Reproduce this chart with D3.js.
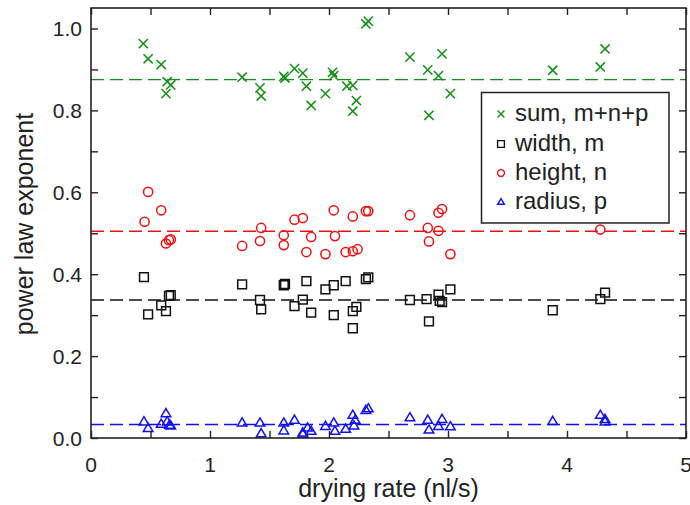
<!DOCTYPE html>
<html>
<head>
<meta charset="utf-8">
<script src="https://cdn.jsdelivr.net/npm/d3@7"></script>
<style>
  body { margin: 0; background: #fff; }
  text { font-family: "Liberation Sans", Arial, sans-serif; fill: #222; }
</style>
</head>
<body>
<svg id="svg" width="690" height="505"></svg>
<script>
// values
var sumX = [0.44,0.48,0.59,0.63,0.64,0.67,1.27,1.42,1.43,1.62,1.63,1.71,1.78,1.81,1.85,1.97,2.03,2.04,2.15,2.20,2.20,2.23,2.31,2.33,2.68,2.83,2.84,2.92,2.95,3.02,3.88,4.28,4.32];
var sumY = [0.963,0.926,0.912,0.841,0.870,0.862,0.881,0.855,0.835,0.883,0.879,0.902,0.891,0.859,0.812,0.841,0.893,0.885,0.859,0.861,0.798,0.824,1.011,1.018,0.930,0.899,0.788,0.885,0.938,0.841,0.898,0.906,0.950];

var widthX = [0.445,0.48,0.59,0.63,0.655,0.67,1.27,1.42,1.43,1.62,1.63,1.71,1.78,1.81,1.85,1.97,2.04,2.04,2.14,2.20,2.23,2.20,2.31,2.33,2.68,2.82,2.84,2.92,2.93,2.95,3.02,3.88,4.28,4.32];
var widthY = [0.393,0.302,0.324,0.310,0.347,0.349,0.375,0.337,0.314,0.373,0.376,0.322,0.338,0.383,0.306,0.363,0.373,0.300,0.383,0.310,0.320,0.268,0.388,0.392,0.337,0.339,0.285,0.350,0.335,0.332,0.363,0.312,0.339,0.355];

var heightX = [0.45,0.48,0.59,0.63,0.655,0.67,1.27,1.42,1.43,1.62,1.62,1.71,1.78,1.81,1.85,1.97,2.04,2.05,2.14,2.20,2.20,2.24,2.31,2.33,2.68,2.83,2.84,2.92,2.92,2.95,3.02,4.28];
var heightY = [0.528,0.601,0.556,0.475,0.483,0.485,0.469,0.481,0.513,0.495,0.471,0.533,0.537,0.454,0.491,0.449,0.556,0.493,0.454,0.541,0.456,0.461,0.554,0.554,0.544,0.513,0.480,0.550,0.506,0.559,0.449,0.509];

var radiusX = [0.445,0.48,0.59,0.63,0.64,0.66,0.67,1.27,1.42,1.43,1.62,1.62,1.71,1.78,1.78,1.82,1.85,1.97,2.04,2.05,2.14,2.20,2.22,2.21,2.31,2.33,2.68,2.83,2.84,2.92,2.95,3.02,3.88,4.28,4.32,4.32];
var radiusY = [0.040,0.024,0.034,0.060,0.040,0.032,0.030,0.037,0.037,0.011,0.037,0.018,0.044,0.013,0.010,0.025,0.017,0.029,0.037,0.017,0.022,0.056,0.044,0.030,0.068,0.072,0.050,0.044,0.020,0.029,0.046,0.028,0.041,0.056,0.046,0.040];

// mean values (dashed lines)
var means = [0.875, 0.337, 0.505, 0.033];
var seriesNames = ["sum, m+n+p", "width, m", "height, n", "radius, p"];
var seriesColors = ["#119011", "#111111", "#ee1111", "#1111ee"];
var seriesShapes = ["x", "square", "circle", "triangle"];

var xTicks = [0, 1, 2, 3, 4, 5];
var yTicks = [0.0, 0.2, 0.4, 0.6, 0.8, 1.0];

var svg = d3.select("#svg");

// plot box (window.top is reserved, so not "top")
var padL = 91, padR = 686, padT = 8, padB = 438;

var x = d3.scaleLinear().domain([0, 5]).range([padL, padR]);
var y = d3.scaleLinear().domain([0, 1.05]).range([padB, padT]);

var series = [
  {x: sumX, y: sumY},
  {x: widthX, y: widthY},
  {x: heightX, y: heightY},
  {x: radiusX, y: radiusY}
];

// marker path around 0,0 ; r = half size
function markerPath(shape, r) {
  if (shape == "x") {
    return "M" + (-r) + "," + (-r) + "L" + r + "," + r + "M" + (-r) + "," + r + "L" + r + "," + (-r);
  }
  else if (shape == "square") {
    return "M" + (-r) + "," + (-r) + "H" + r + "V" + r + "H" + (-r) + "Z";
  }
  else if (shape == "circle") {
    return "M" + (-r) + ",0A" + r + "," + r + " 0 1,0 " + r + ",0A" + r + "," + r + " 0 1,0 " + (-r) + ",0Z";
  }
  else {
    var h = r * 1.7;
    return "M0," + (-h * 0.6) + "L" + r + "," + (h * 0.4) + "L" + (-r) + "," + (h * 0.4) + "Z";
  }
}

// dashed mean lines
for (let i = 0; i < 4; i++) {
  svg.append("line")
    .attr("x1", padL).attr("x2", padR)
    .attr("y1", y(means[i])).attr("y2", y(means[i]))
    .attr("stroke", seriesColors[i])
    .attr("stroke-width", 1.4)
    .attr("stroke-dasharray", "13,6");
}

// points
var sizes = [4.6, 4.4, 4.6, 4.8];
for (let i = 0; i < 4; i++) {
  var pts = series[i].x.map(function(v, k) { return [v, series[i].y[k]]; });
  svg.append("g").selectAll("path")
    .data(pts)
    .enter().append("path")
    .attr("d", markerPath(seriesShapes[i], sizes[i]))
    .attr("transform", function(d) { return "translate(" + x(d[0]) + "," + y(d[1]) + ")"; })
    .attr("fill", "none")
    .attr("stroke", seriesColors[i])
    .attr("stroke-width", 1.5);
}

// axes, ticks inward on all four sides
var tickLen = 7;
var bottomAxis = d3.axisBottom(x).tickValues(d3.range(0, 5.01, 0.5)).tickSize(-tickLen).tickFormat("");
var topAxis = d3.axisTop(x).tickValues(d3.range(0, 5.01, 0.5)).tickSize(-tickLen).tickFormat("");
var leftAxis = d3.axisLeft(y).tickValues(d3.range(0, 1.01, 0.1)).tickSize(-tickLen).tickFormat("");
var rightAxis = d3.axisRight(y).tickValues(d3.range(0, 1.01, 0.1)).tickSize(-tickLen).tickFormat("");

svg.append("g").attr("transform", "translate(0," + padB + ")").call(bottomAxis);
svg.append("g").attr("transform", "translate(0," + padT + ")").call(topAxis);
svg.append("g").attr("transform", "translate(" + padL + ",0)").call(leftAxis);
svg.append("g").attr("transform", "translate(" + padR + ",0)").call(rightAxis);

svg.selectAll(".domain").remove();
svg.selectAll(".tick line").attr("stroke", "#222").attr("stroke-width", 1.4);

svg.append("rect")
  .attr("x", padL).attr("y", padT)
  .attr("width", padR - padL).attr("height", padB - padT)
  .attr("fill", "none")
  .attr("stroke", "#222")
  .attr("stroke-width", 1.6);

// tick labels
svg.append("g").selectAll("text")
  .data(xTicks)
  .enter().append("text")
  .attr("x", function(d) { return x(d); })
  .attr("y", 472)
  .attr("text-anchor", "middle")
  .style("font-size", "21px")
  .text(function(d) { return d; });

svg.append("g").selectAll("text")
  .data(yTicks)
  .enter().append("text")
  .attr("x", 82)
  .attr("y", function(d) { return y(d); })
  .attr("dy", "0.36em")
  .attr("text-anchor", "end")
  .style("font-size", "21px")
  .text(function(d) { return d.toFixed(1); });

// axis titles
svg.append("text")
  .attr("x", (padL + padR) / 2)
  .attr("y", 497)
  .attr("text-anchor", "middle")
  .style("font-size", "25px")
  .text("drying rate (nl/s)");

svg.append("text")
  .attr("transform", "translate(33,224) rotate(-90)")
  .attr("text-anchor", "middle")
  .style("font-size", "25px")
  .text("power law exponent");

// legend
var legend = svg.append("g");
legend.append("rect")
  .attr("x", 481.5).attr("y", 92.5)
  .attr("width", 187.5).attr("height", 130.5)
  .attr("fill", "#fff")
  .attr("stroke", "#222")
  .attr("stroke-width", 1.5);

var legendY = [114, 144, 173, 202];
for (let i = 0; i < 4; i++) {
  legend.append("path")
    .attr("d", markerPath(seriesShapes[i], 3.4))
    .attr("transform", "translate(501," + legendY[i] + ")")
    .attr("fill", "none")
    .attr("stroke", seriesColors[i])
    .attr("stroke-width", 1.4);
  legend.append("text")
    .attr("x", 515)
    .attr("y", legendY[i] + 7)
    .style("font-size", "24px")
    .text(seriesNames[i]);
}
</script>
</body>
</html>
